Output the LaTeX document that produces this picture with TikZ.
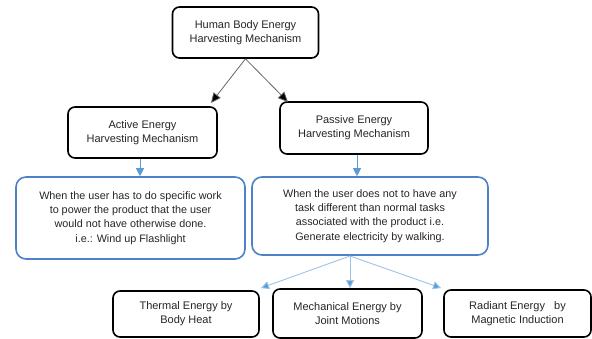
\documentclass[tikz,border=0pt]{standalone}
\usepackage{fontspec}
\setmainfont{Liberation Sans}
\usetikzlibrary{arrows.meta}
\definecolor{bbord}{HTML}{4F81C9}
\definecolor{barrow}{HTML}{5B9BD5}
\definecolor{blight}{HTML}{9DC3E6}
\definecolor{txt}{HTML}{262626}
\begin{document}
\begin{tikzpicture}[x=1pt,y=-1pt,
  blackbox/.style={draw=black,line width=1.6pt,rounded corners=7pt,fill=white,
    align=center,font=\fontsize{11}{14}\selectfont,text=txt,inner sep=0pt},
  bluebox/.style={draw=bbord,line width=1.6pt,rounded corners=10pt,fill=white,
    align=center,font=\fontsize{10.8}{14.3}\selectfont,text=txt,inner sep=0pt},
  grayarrow/.style={draw=gray!80!black,line width=0.8pt,-{Triangle[length=10pt,width=9pt,fill=black]}},
  bluearrow/.style={draw=barrow,line width=0.9pt,-{Triangle[length=8pt,width=8pt]}},
  lightarrow/.style={draw=blight,line width=0.9pt,-{Triangle[length=8pt,width=8pt,fill=barrow]}}]
\useasboundingbox (0,0) rectangle (592,339);
\begin{scope}
\clip (0,0) rectangle (592,339);
\node[blackbox,minimum width=146pt,minimum height=51pt] (top) at (245.5,32.5)
  {Human Body Energy\\Harvesting Mechanism};
\node[blackbox,minimum width=149pt,minimum height=51pt] (active) at (142.5,132.5)
  {Active Energy\\Harvesting Mechanism};
\node[blackbox,minimum width=148pt,minimum height=52pt] (passive) at (354,128)
  {Passive Energy\\Harvesting Mechanism};
\node[bluebox,minimum width=229pt,minimum height=82pt] (blueA) at (130.5,218)
  {When the user has to do specific work\\to power the product that the user\\would not have otherwise done.\\i.e.: Wind up Flashlight};
\node[bluebox,minimum width=236pt,minimum height=78pt] (blueB) at (370,216)
  {When the user does not to have any\\task different than normal tasks\\associated with the product i.e.\\Generate electricity by walking.};
\node[blackbox,minimum width=146pt,minimum height=46pt] (thermal) at (186,314)
  {Thermal Energy by\\Body Heat};
\node[blackbox,minimum width=149pt,minimum height=49pt] (mech) at (347.5,313.5)
  {Mechanical Energy by\\Joint Motions};
\node[blackbox,minimum width=147pt,minimum height=47pt] (radiant) at (517.5,313.5)
  {Radiant Energy\ \ \ by\\Magnetic Induction};
\end{scope}
\coordinate (ta) at (211,103);
\coordinate (tp) at (288,102);
\draw[grayarrow] (top.south) -- (ta);
\draw[grayarrow] (top.south) -- (tp);
\draw[bluearrow] (active.south -| 140,0) -- (blueA.north -| 140,0);
\draw[bluearrow] (passive.south -| 357,0) -- (blueB.north -| 357,0);
\coordinate (src) at (350,256);
\coordinate (tt) at (261,288);
\coordinate (tr) at (441,288);
\draw[lightarrow] (src) -- (tt);
\draw[lightarrow] (src) -- (mech.north -| src);
\draw[lightarrow] (src) -- (tr);
\end{tikzpicture}
\end{document}
